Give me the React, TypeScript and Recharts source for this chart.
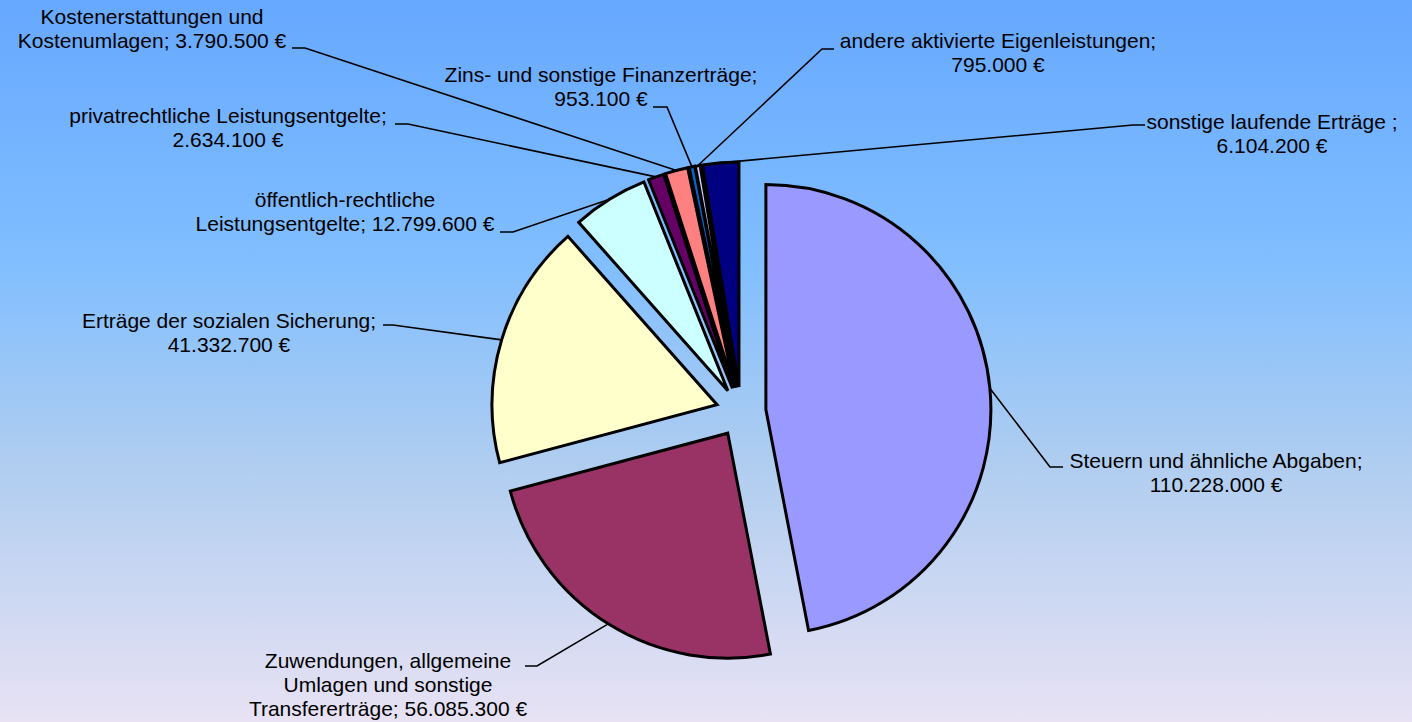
import React from 'react';
import { PieChart, Pie, Cell } from 'recharts';

// slices, clockwise from 12 o'clock
const categories = [
  'Steuern und ähnliche Abgaben',
  'Zuwendungen, allgemeine Umlagen und sonstige Transfererträge',
  'Erträge der sozialen Sicherung',
  'öffentlich-rechtliche Leistungsentgelte',
  'privatrechtliche Leistungsentgelte',
  'Kostenerstattungen und Kostenumlagen',
  'Zins- und sonstige Finanzerträge',
  'andere aktivierte Eigenleistungen',
  'sonstige laufende Erträge',
];

const values = [110228000, 56085300, 41332700, 12799600, 2634100, 3790500, 953100, 795000, 6104200];

const colors = ['#9999FF', '#993366', '#FFFFCC', '#CCFFFF', '#660066', '#FF8080', '#0066CC', '#CCCCFF', '#000080'];

// label text as wrapped in the original
const labelText = [
  ['Steuern und ähnliche Abgaben;', '110.228.000 €'],
  ['Zuwendungen, allgemeine', 'Umlagen und sonstige', 'Transfererträge; 56.085.300 €'],
  ['Erträge der sozialen Sicherung;', '41.332.700 €'],
  ['öffentlich-rechtliche', 'Leistungsentgelte; 12.799.600 €'],
  ['privatrechtliche Leistungsentgelte;', '2.634.100 €'],
  ['Kostenerstattungen und', 'Kostenumlagen; 3.790.500 €'],
  ['Zins- und sonstige Finanzerträge;', '953.100 €'],
  ['andere aktivierte Eigenleistungen;', '795.000 €'],
  ['sonstige laufende Erträge ;', '6.104.200 €'],
];

// label placement: text centre/baseline, leader elbow and tick end
const labelLayout = [
  { x: 1216, y: 468, ex: 1050, ey: 467, tx: 1063 },
  { x: 388, y: 668, ex: 537, ey: 666, tx: 525 },
  { x: 229, y: 328, ex: 393, ey: 325, tx: 383 },
  { x: 345, y: 207, ex: 513, ey: 232, tx: 500 },
  { x: 228, y: 123, ex: 408, ey: 124, tx: 395 },
  { x: 152, y: 24, ex: 305, ey: 48, tx: 292 },
  { x: 601, y: 82, ex: 667, ey: 107, tx: 653 },
  { x: 998, y: 48, ex: 822, ey: 49, tx: 834 },
  { x: 1272, y: 129, ex: 1133, ey: 125, tx: 1145 },
];

const W = 1412;
const H = 722;
const CX = 741;
const CY = 412;
const RADIUS = 225;
const EXPLODE = 25;
const FONT = '"Liberation Sans", Arial, sans-serif';

const data = categories.map((name, i) => ({ name, value: values[i] }));
const total = values.reduce((a, b) => a + b, 0);

// mid angle of each slice, clockwise from top, in radians
const midAngles: number[] = [];
let acc = 0;
values.forEach((v) => {
  midAngles.push(((acc + v / 2) / total) * Math.PI * 2);
  acc += v;
});

const renderLabel = (i: number) => (p: any) => {
  if (p.index !== i) return null;
  const rad = (-p.midAngle * Math.PI) / 180;
  const sx = p.cx + p.outerRadius * Math.cos(rad);
  const sy = p.cy + p.outerRadius * Math.sin(rad);
  const L = labelLayout[i];
  return (
    <g>
      <polyline
        points={`${sx},${sy} ${L.ex},${L.ey} ${L.tx},${L.ey}`}
        fill="none"
        stroke="#000"
        strokeWidth={1.6}
      />
      <text x={L.x} y={L.y} textAnchor="middle" fontFamily={FONT} fontSize={21} fill="#000">
        {labelText[i].map((t, k) => (
          <tspan key={k} x={L.x} dy={k === 0 ? 0 : 24}>
            {t}
          </tspan>
        ))}
      </text>
    </g>
  );
};

export default function App() {
  return (
    <div
      style={{
        position: 'absolute',
        left: 0,
        top: 0,
        width: W,
        height: H,
        background: 'linear-gradient(180deg, #66A8FF 0%, #80BEFF 36%, #AFCDF0 64%, #E8E2F4 100%)',
      }}
    >
      <PieChart width={W} height={H} margin={{ top: 0, right: 0, bottom: 0, left: 0 }}>
        {data.map((_, i) => (
          <Pie
            key={i}
            data={data}
            dataKey="value"
            nameKey="name"
            cx={CX + EXPLODE * Math.sin(midAngles[i])}
            cy={CY - EXPLODE * Math.cos(midAngles[i])}
            innerRadius={0}
            outerRadius={RADIUS}
            startAngle={90}
            endAngle={-270}
            isAnimationActive={false}
            label={renderLabel(i)}
            labelLine={false}
          >
            {data.map((d, j) => (
              <Cell
                key={d.name}
                fill={j === i ? colors[j] : 'none'}
                stroke={j === i ? '#000' : 'none'}
                strokeWidth={3}
              />
            ))}
          </Pie>
        ))}
      </PieChart>
    </div>
  );
}
